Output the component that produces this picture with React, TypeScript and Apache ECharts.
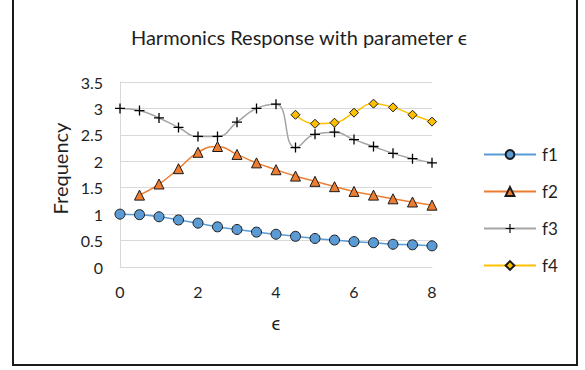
import React, { useEffect, useRef } from "react";
import * as echarts from "echarts";

// Parameter ϵ sampled every 0.5 from 0 to 8
const epsilon = [0, 0.5, 1, 1.5, 2, 2.5, 3, 3.5, 4, 4.5, 5, 5.5, 6, 6.5, 7, 7.5, 8];

// Harmonic frequencies (null where a harmonic is not defined)
const f1 = [1.0, 0.99, 0.95, 0.89, 0.83, 0.76, 0.71, 0.66, 0.62, 0.58, 0.54, 0.51, 0.48, 0.46, 0.43, 0.42, 0.4];
const f2 = [null, 1.36, 1.57, 1.86, 2.17, 2.28, 2.13, 1.97, 1.84, 1.72, 1.62, 1.52, 1.43, 1.36, 1.29, 1.23, 1.17];
const f3 = [3.0, 2.96, 2.82, 2.64, 2.47, 2.47, 2.74, 3.0, 3.08, 2.26, 2.51, 2.55, 2.41, 2.28, 2.15, 2.05, 1.97];
const f4 = [null, null, null, null, null, null, null, null, null, 2.88, 2.71, 2.73, 2.92, 3.09, 3.02, 2.88, 2.75];

const xTicks = [0, 2, 4, 6, 8];
const yTicks = [0, 0.5, 1, 1.5, 2, 2.5, 3, 3.5];

const FONT = "Lato, 'Open Sans', sans-serif";
const TEXT = "#1f1f1f";
const GRID = "#D9D9D9";
const PLUS = "path://M4.35,0H5.65V4.35H10V5.65H5.65V10H4.35V5.65H0V4.35H4.35Z";

function pairs(ys: (number | null)[]) {
  const out: [number, number][] = [];
  ys.forEach((y, i) => {
    if (y !== null) out.push([epsilon[i], y]);
  });
  return out;
}

export default function App() {
  const ref = useRef<HTMLDivElement>(null);

  useEffect(() => {
    if (!ref.current) return;
    const chart = echarts.init(ref.current, null, { renderer: "svg" });

    const mk = (name: string, ys: (number | null)[], color: string, symbol: string, size: number, plus = false) => ({
      name,
      type: "line",
      data: pairs(ys),
      smooth: true,
      symbol,
      symbolSize: size,
      showAllSymbol: true,
      lineStyle: { color, width: 1.5 },
      itemStyle: plus
        ? { color: "#000000", borderWidth: 0 }
        : { color, borderColor: "#1a1a1a", borderWidth: 1 },
      emphasis: { disabled: true },
      z: 3,
    });

    chart.setOption({
      animation: false,
      textStyle: { fontFamily: FONT },
      title: {
        text: "Harmonics Response with parameter ϵ",
        left: 294,
        top: 22,
        textAlign: "center",
        textStyle: { fontFamily: FONT, fontSize: 20, fontWeight: "normal", color: TEXT },
      },
      graphic: [
        {
          type: "rect",
          shape: { x: 13, y: -2, width: 564, height: 367 },
          style: { fill: "none", stroke: "#1a1a1a", lineWidth: 2 },
          silent: true,
        },
      ],
      grid: { left: 120, right: 153, top: 82, bottom: 103 },
      xAxis: {
        type: "value",
        min: 0,
        max: 8,
        interval: 2,
        name: "ϵ",
        nameLocation: "middle",
        nameGap: 46,
        nameTextStyle: { fontFamily: FONT, fontSize: 19, color: TEXT },
        axisLine: { show: true, lineStyle: { color: GRID, width: 1 } },
        axisTick: { show: false },
        splitLine: { show: false },
        axisLabel: {
          fontFamily: FONT,
          fontSize: 16,
          color: TEXT,
          margin: 16,
          customValues: xTicks,
        },
      },
      yAxis: {
        type: "value",
        min: 0,
        max: 3.5,
        interval: 0.5,
        name: "Frequency",
        nameLocation: "middle",
        nameGap: 50,
        nameTextStyle: { fontFamily: FONT, fontSize: 20, color: TEXT, padding: [0, 0, 0, 12] },
        axisLine: { show: true, lineStyle: { color: GRID, width: 1 } },
        axisTick: { show: false },
        splitLine: { show: true, lineStyle: { color: GRID, width: 1 } },
        axisLabel: {
          fontFamily: FONT,
          fontSize: 16,
          color: TEXT,
          margin: 17,
          customValues: yTicks,
        },
      },
      legend: {
        orient: "vertical",
        left: 478,
        top: 141,
        itemWidth: 52,
        itemHeight: 11,
        itemGap: 20,
        textStyle: { fontFamily: FONT, fontSize: 17, color: TEXT, padding: [0, 0, 0, 1] },
        data: ["f1", "f2", "f3", "f4"],
      },
      series: [
        mk("f1", f1, "#5B9BD5", "circle", 10),
        mk("f2", f2, "#ED7D31", "triangle", 10),
        mk("f3", f3, "#A5A5A5", PLUS, 10, true),
        mk("f4", f4, "#FFC000", "diamond", 9),
      ],
    });

    return () => chart.dispose();
  }, []);

  return (
    <div
      ref={ref}
      style={{ position: "fixed", left: 0, top: 0, width: 585, height: 370, background: "#ffffff" }}
    />
  );
}
